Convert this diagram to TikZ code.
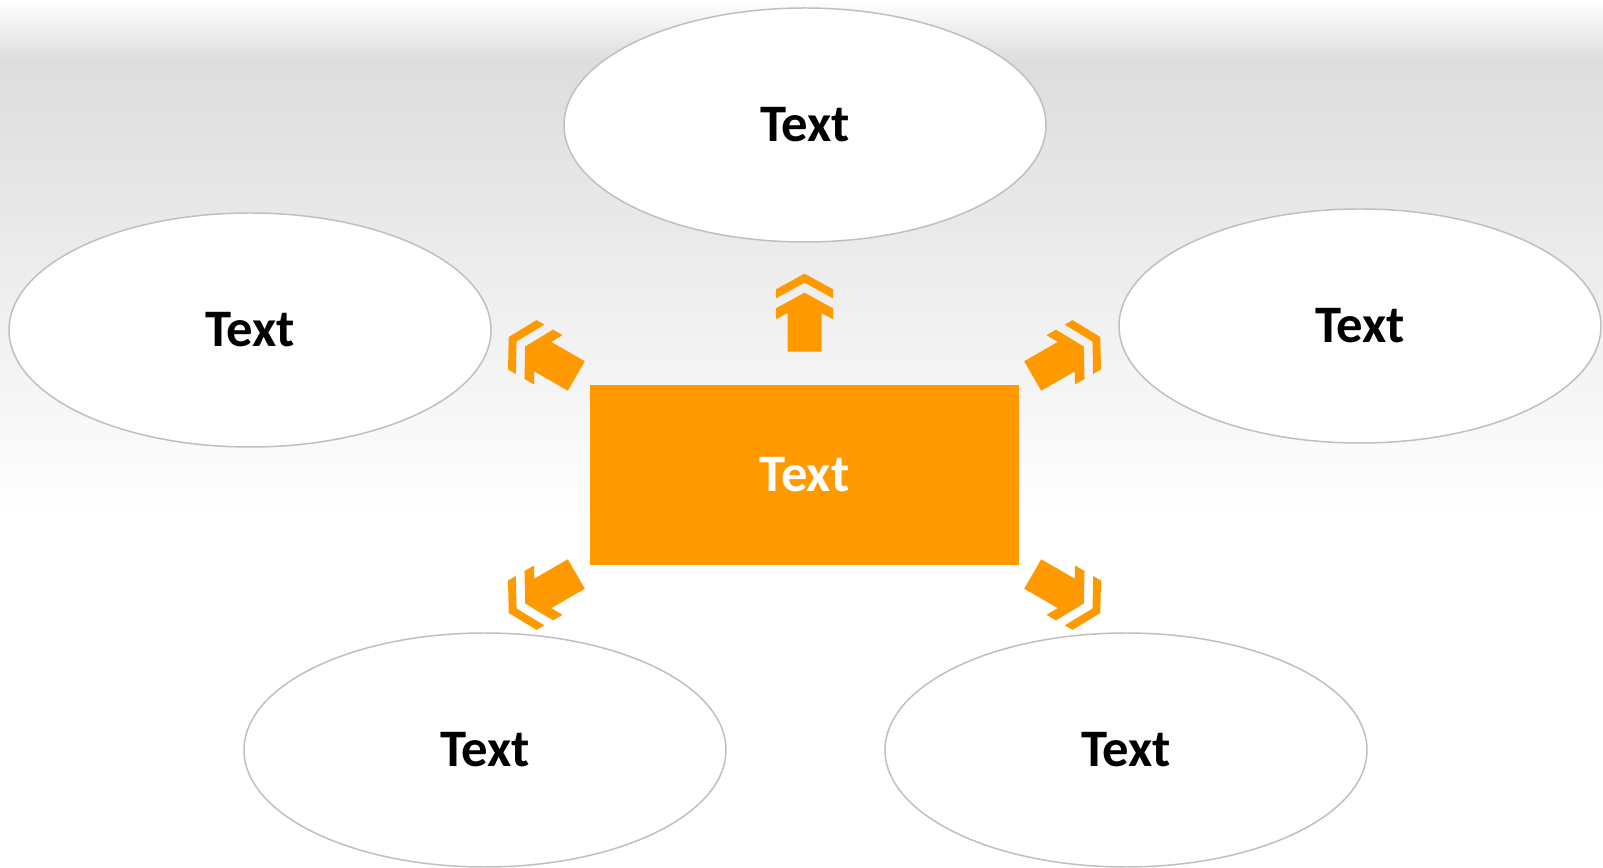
\documentclass[tikz,border=0pt]{standalone}
\usepackage{fontspec}
\setmainfont{Carlito}
\usepackage{tikz}
\usetikzlibrary{positioning, shapes.geometric, calc}
\definecolor{naranja}{HTML}{FF9900}
\definecolor{borde}{HTML}{BFBFBF}
\definecolor{fondo}{HTML}{DDDDDD}
\tikzset{
    burbuja/.style={draw=borde, line width=0.85pt, ellipse, fill=white, minimum width=9.64cm, minimum height=4.68cm, font=\fontsize{30}{34}\selectfont\bfseries, text=black},
    centro/.style={rectangle, fill=naranja, minimum width=8.58cm, minimum height=3.6cm, font=\fontsize{30}{34}\selectfont\bfseries, text=white},
}
\tikzset{
    flecha/.pic={
        \fill[naranja] (-0.34,0) -- (0.34,0) -- (0.34,0.774) -- (0.57,0.648) -- (0.57,0.868) -- (0,1.18) -- (-0.57,0.868) -- (-0.57,0.648) -- (-0.34,0.774) -- cycle;
        \fill[naranja] (-0.57,1.068) -- (0,1.38) -- (0.57,1.068) -- (0.57,1.248) -- (0,1.56) -- (-0.57,1.248) -- cycle;
    }
}
\begin{document}
\begin{tikzpicture}
        \useasboundingbox (0,0) rectangle (32.06,-17.36);
        % Fondo
        \fill[white] (0,0) rectangle (32.06,-17.36);
        \shade[top color=white, bottom color=fondo] (0,0) rectangle (32.06,-1.2);
        \shade[top color=fondo, bottom color=white] (0,-1.2) rectangle (32.06,-10.4);
        % Caja central
        \node[centro] (cen) at (16.09,-9.5) {Text};
        % Elipses
        \node[burbuja] (sup) at (16.1,-2.5)   {Text};
        \node[burbuja] (izq) at (5.0,-6.6)    {Text};
        \node[burbuja] (der) at (27.2,-6.52)  {Text};
        \node[burbuja] (iab) at (9.7,-15.0)   {Text};
        \node[burbuja] (dab) at (22.52,-15.0) {Text};
        % Flechas
        \coordinate (fs)  at ($(cen)+(0,2.466)$);
        \coordinate (fsi) at ($(cen)+(-4.564,1.98)$);
        \coordinate (fsd) at ($(cen)+(4.564,1.98)$);
        \coordinate (fii) at ($(cen)+(-4.564,-1.98)$);
        \coordinate (fid) at ($(cen)+(4.564,-1.98)$);
        \pic at (fs) {flecha};
        \pic[rotate=60] at (fsi) {flecha};
        \pic[rotate=-60] at (fsd) {flecha};
        \pic[rotate=120] at (fii) {flecha};
        \pic[rotate=-120] at (fid) {flecha};
    \end{tikzpicture}
\end{document}
